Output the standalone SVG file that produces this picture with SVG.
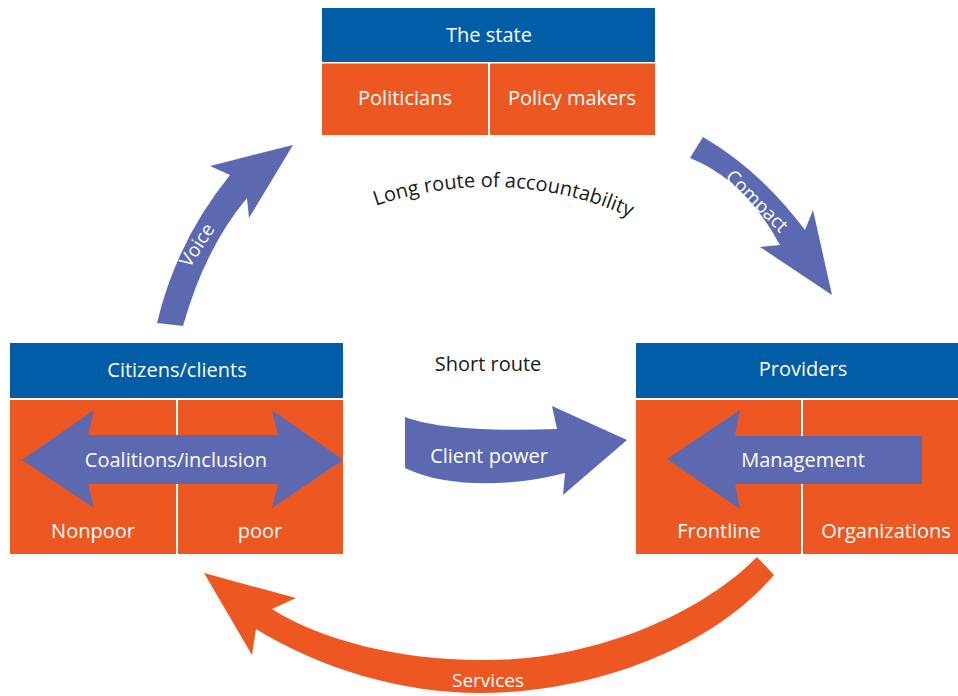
<svg xmlns="http://www.w3.org/2000/svg" width="958" height="696" viewBox="0 0 958 696">
<style>
  .hdr { fill: #005DA6; }
  .body { fill: #EC5722; }
  .div { stroke: #ffffff; stroke-width: 2; }
  .arr { fill: #5C68B0; }
  .svc { fill: #EC5722; }
  .t { font-family: "Open Sans", "Noto Sans", sans-serif; font-size: 20px; fill: #ffffff; text-anchor: middle; }
  .ts { font-family: "Open Sans", "Noto Sans", sans-serif; font-size: 19px; fill: #ffffff; text-anchor: middle; }
  .dark { font-family: "Open Sans", "Noto Sans", sans-serif; font-size: 20px; fill: #1a1a1a; text-anchor: middle; }
</style>
<defs>
  <path id="longArc" d="M 350 216 A 345.7 345.7 0 0 1 655 229.5"/>
</defs>
<rect width="958" height="696" fill="#ffffff"/>

<g id="state">
  <rect class="hdr" x="322" y="8" width="333" height="54"/>
  <rect class="body" x="322" y="63.5" width="333" height="71.5"/>
  <line class="div" x1="489" y1="63" x2="489" y2="135"/>
  <text class="t" x="489" y="42">The state</text>
  <text class="t" x="405" y="105">Politicians</text>
  <text class="t" x="572" y="105">Policy makers</text>
</g>

<g id="citizens">
  <rect class="hdr" x="10" y="343" width="333" height="55"/>
  <rect class="body" x="10" y="400" width="333" height="154"/>
  <line class="div" x1="177" y1="400" x2="177" y2="554"/>
  <path class="arr" d="M 22 460 L 94 410 L 88 435 L 278 435 L 272 410 L 343 460 L 272 508 L 278 484 L 88 484 L 94 508 Z"/>
  <text class="t" x="177" y="377">Citizens/clients</text>
  <text class="t" x="176" y="467">Coalitions/inclusion</text>
  <text class="t" x="93" y="538">Nonpoor</text>
  <text class="t" x="260" y="538">poor</text>
</g>

<g id="providers">
  <rect class="hdr" x="636" y="343" width="322" height="55"/>
  <rect class="body" x="636" y="400" width="322" height="154"/>
  <line class="div" x1="802" y1="400" x2="802" y2="554"/>
  <path class="arr" d="M 667 459 L 740 410 L 735 436 L 922 436 L 922 484 L 735 484 L 740 509 Z"/>
  <text class="t" x="803" y="376">Providers</text>
  <text class="t" x="803" y="467">Management</text>
  <text class="t" x="719" y="538">Frontline</text>
  <text class="t" x="886" y="538">Organizations</text>
</g>

<g id="connectors">
  <g id="voice">
    <path class="arr" d="M 157 323 Q 176.5 241 230 175 L 210 166 L 293 145 L 249 218 L 247 198 Q 205 248 183 326 Z"/>
    <text class="ts" transform="translate(197 245) rotate(-57)" y="6.5">Voice</text>
  </g>
  <g id="compact">
    <path class="arr" d="M 690 158 L 703 137 Q 760 170 805 230 L 813 210 L 832 295 L 760 247 L 780 245 Q 745 180 690 158 Z"/>
    <text class="ts" transform="translate(757 201) rotate(45)" y="6.5">Compact</text>
  </g>
  <g id="client-power">
    <path class="arr" d="M 405 417 C 440 430 500 431 557 429 L 552 406 L 627 440 L 563 495 L 565 473 C 520 485 450 490 405 468 Z"/>
    <text class="t" x="489" y="463">Client power</text>
  </g>
  <g id="services">
    <path class="svc" d="M 757 557 C 700 615 590 662 480 660 C 400 660 320 640 272 609 L 296 598 L 204 573 L 252 655 L 256 629 C 320 668 400 693 480 693 C 590 693 710 650 774 575 Z"/>
    <text class="ts" x="488" y="687">Services</text>
  </g>
  <text class="dark"><textPath href="#longArc" startOffset="50%">Long route of accountability</textPath></text>
  <text class="dark" x="488" y="371">Short route</text>
</g>
</svg>
